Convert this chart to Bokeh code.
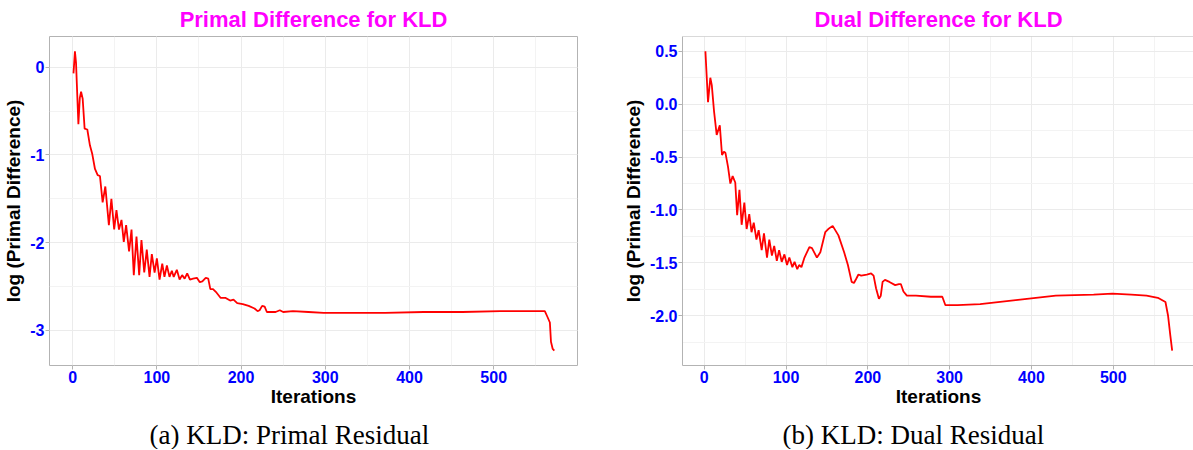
from bokeh.plotting import figure
from bokeh.layouts import row
from bokeh.models import SingleIntervalTicker, Title, Span, Range1d, PrintfTickFormatter
from bokeh.embed import file_html
from bokeh.resources import INLINE

# ---- data ----
iter_primal = [1, 2.7, 4, 6.8, 8.5, 10, 11.9, 14.2, 17.4, 20.5, 23.3, 26.5, 29.7, 32.4,
               35.6, 38.8, 43, 46, 49.3, 52, 55, 58, 60.7, 63.5, 67, 69.9, 72.6, 75.8,
               79, 81.7, 85, 88, 91.3, 94, 97.3, 100, 103.2, 106.4, 109, 111.9, 115,
               117.8, 120, 123.7, 127, 130, 133, 136, 139.3, 143, 147.5, 151, 154, 158,
               161, 163.5, 166.7, 170, 175.8, 181.7, 187, 191, 195.4, 202, 209, 216,
               219.6, 222, 225, 228, 230.6, 241, 246, 250, 261.6, 280, 298, 371, 417,
               462.6, 508, 560.7, 564, 566.7, 568, 570, 572]
log_primal = [-0.07, 0.18, 0.05, -0.65, -0.35, -0.28, -0.36, -0.70, -0.71, -0.89, -0.99,
              -1.16, -1.23, -1.24, -1.54, -1.36, -1.80, -1.50, -1.85, -1.63, -1.85, -1.74,
              -1.99, -1.80, -2.10, -1.85, -2.37, -1.93, -2.37, -1.97, -2.34, -2.08, -2.39,
              -2.13, -2.34, -2.18, -2.42, -2.24, -2.39, -2.26, -2.39, -2.32, -2.39, -2.31,
              -2.42, -2.37, -2.41, -2.35, -2.42, -2.41, -2.40, -2.45, -2.44, -2.40, -2.41,
              -2.53, -2.53, -2.56, -2.63, -2.63, -2.66, -2.65, -2.69, -2.70, -2.72, -2.75,
              -2.78, -2.77, -2.72, -2.73, -2.79, -2.79, -2.77, -2.79, -2.78, -2.79, -2.80,
              -2.80, -2.79, -2.79, -2.78, -2.78, -2.85, -2.91, -3.13, -3.21, -3.23]

iter_dual = [1.4, 4.6, 7.4, 9.2, 12, 15.2, 19, 21.7, 24, 25.9, 29, 31.9, 34.7, 37.9, 40.2,
             43, 45.7, 49, 51.8, 55, 57.8, 60.5, 63.8, 66.5, 70.2, 73, 76.7, 79.5, 82.7,
             85.5, 88.7, 91.5, 94.7, 98, 101.2, 104, 107.7, 110.4, 113.7, 116, 118.8,
             122.5, 128.5, 131.7, 137.7, 141.9, 147.9, 151.6, 157, 164, 171, 175.6, 180.2,
             183, 185.8, 188.5, 191.8, 198.7, 204, 207, 210, 213.5, 215.8, 218, 220.9,
             226.4, 233.4, 238, 240.3, 243.5, 247.7, 258.8, 277, 291, 294.8, 309.6, 337.3,
             383.5, 429.8, 476, 499, 522, 540.7, 554.5, 563.8, 567, 569.8, 572]
log_dual = [0.50, 0.02, 0.25, 0.18, -0.07, -0.29, -0.20, -0.48, -0.45, -0.46, -0.59, -0.75,
            -0.68, -0.74, -1.05, -0.81, -1.14, -0.93, -1.18, -1.04, -1.21, -1.12, -1.28,
            -1.19, -1.38, -1.22, -1.45, -1.28, -1.43, -1.34, -1.48, -1.38, -1.49, -1.42,
            -1.52, -1.45, -1.54, -1.49, -1.56, -1.52, -1.54, -1.45, -1.35, -1.36, -1.45,
            -1.40, -1.21, -1.18, -1.15, -1.24, -1.40, -1.52, -1.68, -1.69, -1.65, -1.61,
            -1.62, -1.61, -1.60, -1.62, -1.74, -1.84, -1.81, -1.68, -1.66, -1.68, -1.71,
            -1.70, -1.70, -1.77, -1.81, -1.81, -1.82, -1.82, -1.90, -1.90, -1.89, -1.85,
            -1.81, -1.80, -1.79, -1.80, -1.81, -1.83, -1.87, -2.00, -2.19, -2.33]

titles = ["Primal Difference for KLD", "Dual Difference for KLD"]
captions = ["(a) KLD: Primal Residual", "(b) KLD: Dual Residual"]
x_label = "Iterations"
y_label = "log (Primal Difference)"

BORDER = "#B3B3B3"
SANS = "Liberation Sans"


def make_panel(xs, ys, title, caption, x_rng, y_rng, y_interval, y_fmt, border_left,
               border_right, frame_w, cap_offset, full_outline):
    p = figure(frame_width=frame_w, frame_height=329,
               x_range=Range1d(*x_rng), y_range=Range1d(*y_rng),
               output_backend="svg", toolbar_location=None,
               min_border_left=border_left, min_border_right=border_right,
               min_border_top=34, min_border_bottom=0,
               background_fill_color="white", border_fill_color="white")
    p.title.text = title
    p.title.align = "center"
    p.title.text_font = SANS
    p.title.text_font_size = "22px"
    p.title.text_font_style = "bold"
    p.title.text_color = "#FF00FF"
    p.title.standoff = 9

    p.line(xs, ys, line_color="red", line_width=1.8)

    p.xaxis.ticker = SingleIntervalTicker(interval=100, num_minor_ticks=2)
    p.yaxis.ticker = SingleIntervalTicker(interval=y_interval, num_minor_ticks=2)
    p.yaxis.formatter = PrintfTickFormatter(format=y_fmt)
    for ax in (p.xaxis, p.yaxis):
        ax.major_label_text_font = SANS
        ax.major_label_text_font_size = "16px"
        ax.major_label_text_font_style = "bold"
        ax.major_label_text_color = "#0000FF"
        ax.major_tick_line_color = BORDER
        ax.major_tick_out = 4
        ax.major_tick_in = 0
        ax.minor_tick_line_color = None
        ax.major_label_standoff = 1
        ax.axis_label_text_font = SANS
        ax.axis_label_text_font_style = "bold"
        ax.axis_label_text_color = "black"
        ax.axis_label_text_font_size = "19px"
    p.xaxis.axis_label = x_label
    p.xaxis.axis_label_standoff = 0
    p.yaxis.axis_label = y_label
    p.yaxis.axis_label_standoff = 3

    p.xgrid.grid_line_color = "#EBEBEB"
    p.ygrid.grid_line_color = "#EBEBEB"
    p.xgrid.minor_grid_line_color = "#F3F3F3"
    p.ygrid.minor_grid_line_color = "#F3F3F3"

    if full_outline:
        p.outline_line_color = BORDER
        p.xaxis.axis_line_color = None
        p.yaxis.axis_line_color = None
    else:
        p.outline_line_color = None
        p.xaxis.axis_line_color = BORDER
        p.yaxis.axis_line_color = BORDER
        p.add_layout(Span(location=y_rng[1], dimension="width",
                          line_color=BORDER, line_width=1))

    spacer = Title(text=" ", text_font_size="5px", standoff=0)
    p.add_layout(spacer, "below")
    cap = Title(text=caption, align="left", offset=cap_offset,
                text_font="Liberation Serif", text_font_size="27px",
                text_font_style="normal", text_color="black", standoff=0)
    p.add_layout(cap, "below")
    return p


p1 = make_panel(iter_primal, log_primal, titles[0], captions[0],
                (-27.5, 599.5), (-3.40, 0.35), 1, "%d", 48, 24, 528, 100, True)
p2 = make_panel(iter_dual, log_dual, titles[1], captions[1],
                (-26.6, 599.3), (-2.47, 0.64), 0.5, "%.1f", 81, 0, 512, 100, False)

layout = row(p1, p2, spacing=0)
open("out.html", "w").write(file_html(layout, INLINE))
